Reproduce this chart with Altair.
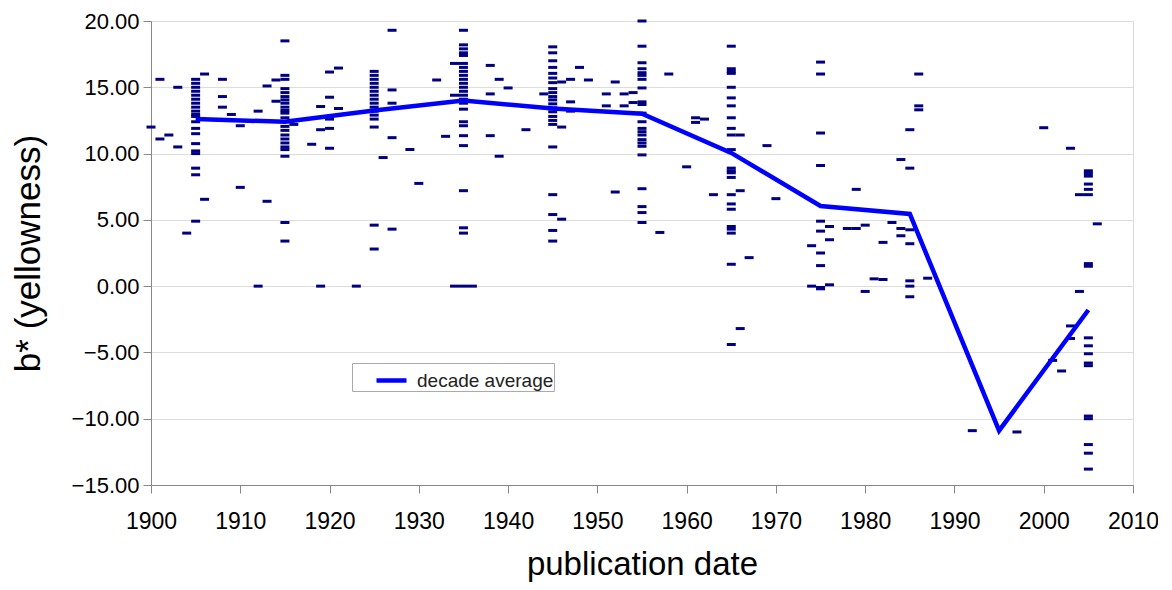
import altair as alt
import pandas as pd

# ---- data ----
point_years = [
    1900, 1901, 1902, 1903, 1904, 1905, 1906, 1908, 1909, 1910,
    1912, 1913, 1914, 1915, 1916, 1918, 1919, 1920, 1921, 1923,
    1925, 1926, 1927, 1929, 1930, 1932, 1933, 1934, 1935, 1936,
    1938, 1939, 1940, 1942, 1944, 1945, 1946, 1947, 1948, 1949,
    1951, 1952, 1953, 1954, 1955, 1957, 1958, 1960, 1961, 1962,
    1963, 1965, 1966, 1967, 1969, 1970, 1974, 1975, 1976, 1978,
    1979, 1980, 1981, 1982, 1983, 1984, 1985, 1986, 1987, 1992,
    1997, 2000, 2001, 2002, 2003, 2004, 2005, 2006,
]
point_values = [
    [12.0], [15.6, 11.1], [11.4], [15.0, 10.5], [4.0],
    [15.6, 15.3, 15.0, 14.7, 14.4, 14.1, 13.8, 13.5, 13.2, 12.95, 12.8, 12.4,
     11.9, 11.5, 10.75, 10.2, 10.0, 8.9, 8.4, 4.9],
    [16.0, 6.55], [15.6, 14.3, 13.5], [12.95], [12.1, 7.45],
    [13.2, 0.0], [15.1, 6.4], [15.55, 13.95],
    [18.5, 15.9, 15.6, 14.9, 14.6, 14.3, 14.05, 13.8, 13.5, 13.25, 13.05, 12.7,
     12.4, 12.05, 11.75, 11.4, 11.1, 10.8, 10.5, 10.3, 9.8, 4.8, 3.4],
    [12.2], [10.7], [13.55, 11.8, 0.0], [16.15, 14.25, 12.6, 11.9, 10.4],
    [16.45, 13.4], [0.0],
    [16.2, 15.9, 15.6, 15.3, 15.0, 14.7, 14.4, 14.1, 13.8, 13.5, 13.2, 12.9,
     12.6, 12.0, 4.6, 2.8],
    [9.7], [19.3, 14.8, 13.8, 11.2, 4.3], [10.3], [7.75], [15.55], [11.3],
    [16.8, 14.4, 0.0],
    [19.3, 18.2, 17.9, 17.6, 17.4, 16.8, 16.5, 16.2, 15.9, 15.6, 15.3, 15.0,
     14.7, 14.4, 14.1, 13.8, 13.35, 12.4, 12.1, 11.35, 10.6, 7.2, 4.4, 4.0, 0.0],
    [0.0],
    [16.65, 14.5, 11.35], [15.6, 9.8], [14.95], [11.8], [14.5],
    [18.05, 17.6, 17.0, 16.5, 16.05, 15.7, 15.35, 14.9, 14.6, 14.3, 14.05,
     13.75, 13.45, 13.15, 12.8, 12.5, 12.2, 10.5, 6.9, 5.4, 4.2, 3.4],
    [15.4, 12.0, 5.05], [15.6, 13.9, 13.2], [16.5], [15.55],
    [14.5, 13.6], [15.4, 7.1], [14.5, 13.6], [14.6, 13.85],
    [20.0, 18.1, 16.85, 16.4, 16.1, 15.9, 15.6, 14.95, 13.9, 13.7, 13.05, 12.4,
     11.9, 11.65, 11.4, 11.05, 10.8, 10.55, 9.9, 7.35, 6.0, 5.55, 4.8],
    [4.05], [16.0], [9.0], [12.7, 12.35], [12.6],
    [6.9],
    [18.1, 16.4, 16.2, 16.05, 15.0, 14.2, 13.6, 12.7, 11.9, 11.4, 10.3, 8.9,
     8.7, 8.55, 8.2, 6.9, 6.2, 5.8, 4.5, 4.3, 4.0, 1.65, -4.4],
    [11.4, 7.2, -3.2], [2.15], [10.6], [6.6], [3.05, 0.0],
    [16.9, 16.0, 11.55, 9.1, 4.9, 4.15, 2.5, 1.55, -0.1, -0.2],
    [4.5, 3.5, 0.1], [4.35],
    [7.3, 4.35], [4.6, -0.4], [0.55], [3.3, 0.5], [4.8], [9.55, 4.35, 3.8],
    [11.8, 8.9, 4.25, 3.2, 0.4, 0.0, -0.8], [16.0, 13.6, 13.3], [0.6], [-10.9],
    [-11.0], [11.95], [-5.6], [-6.4], [10.4, -3.0, -3.95], [6.9, -0.4],
    [8.7, 8.5, 8.3, 7.7, 7.3, 6.9, 1.7, 1.5, -3.9, -4.5, -5.1, -5.8, -6.0,
     -9.8, -10.0, -11.95, -12.6, -13.8],
    [4.7],
]

decade_years = [1905, 1915, 1925, 1935, 1945, 1955, 1965, 1975, 1985, 1995, 2005]
decade_avg = [12.6, 12.4, 13.25, 14.0, 13.4, 13.0, 10.05, 6.05, 5.45, -10.9, -1.8]

x_ticks = list(range(1900, 2011, 10))
y_ticks = [-15, -10, -5, 0, 5, 10, 15, 20]

rows = []
for yr, vals in zip(point_years, point_values):
    for v in vals:
        rows.append({"year": yr, "b": v})
points_df = pd.DataFrame(rows)
avg_df = pd.DataFrame({"year": decade_years, "b": decade_avg,
                       "series": ["decade average"] * len(decade_years)})

FONT = "Liberation Sans"

x_enc = alt.X("year:Q",
              scale=alt.Scale(domain=[1900, 2010], nice=False, zero=False),
              axis=alt.Axis(values=x_ticks, format="d", title="publication date",
                            grid=False, tickSize=8, labelFontSize=23,
                            labelPadding=17, titleFontSize=33, titlePadding=15,
                            titleFontWeight="normal", labelFlush=False))
y_enc = alt.Y("b:Q",
              scale=alt.Scale(domain=[-15, 20], nice=False, zero=False),
              axis=alt.Axis(values=y_ticks, format=".2f", title="b* (yellowness)",
                            grid=True, tickSize=8, labelFontSize=22,
                            labelPadding=4, titleFontSize=35, titlePadding=25,
                            titleFontWeight="normal"))

pts = alt.Chart(points_df).mark_tick(
    orient="horizontal", size=9, thickness=3, color="#000080", opacity=1
).encode(x=x_enc, y=y_enc)

line = alt.Chart(avg_df).mark_line(strokeWidth=4.5).encode(
    x="year:Q", y="b:Q",
    color=alt.Color("series:N",
                    scale=alt.Scale(domain=["decade average"], range=["#0000FF"]),
                    legend=alt.Legend(
                        title=None, orient="none", legendX=201, legendY=342,
                        fillColor="white", strokeColor="#aaaaaa", padding=0,
                        symbolType="stroke", symbolStrokeWidth=4.5,
                        symbolSize=900, symbolOffset=22, labelOffset=8,
                        labelFontSize=19, labelColor="#222222", labelFont=FONT,
                        labelLimit=400)),
)

chart = alt.layer(pts, line).properties(
    width=982, height=464,
    autosize=alt.AutoSizeParams(type="none"),
    padding={"left": 143, "top": 13, "right": 25, "bottom": 97},
).configure_axis(
    labelFont=FONT, titleFont=FONT, labelColor="black", titleColor="black",
    domainColor="#888888", tickColor="#888888", gridColor="#cccccc",
    titleFontWeight="normal",
).configure_view(stroke="#888888", strokeWidth=1.5).configure(background="white")

chart.save("out.html", embed_options={"renderer": "svg", "actions": False})
